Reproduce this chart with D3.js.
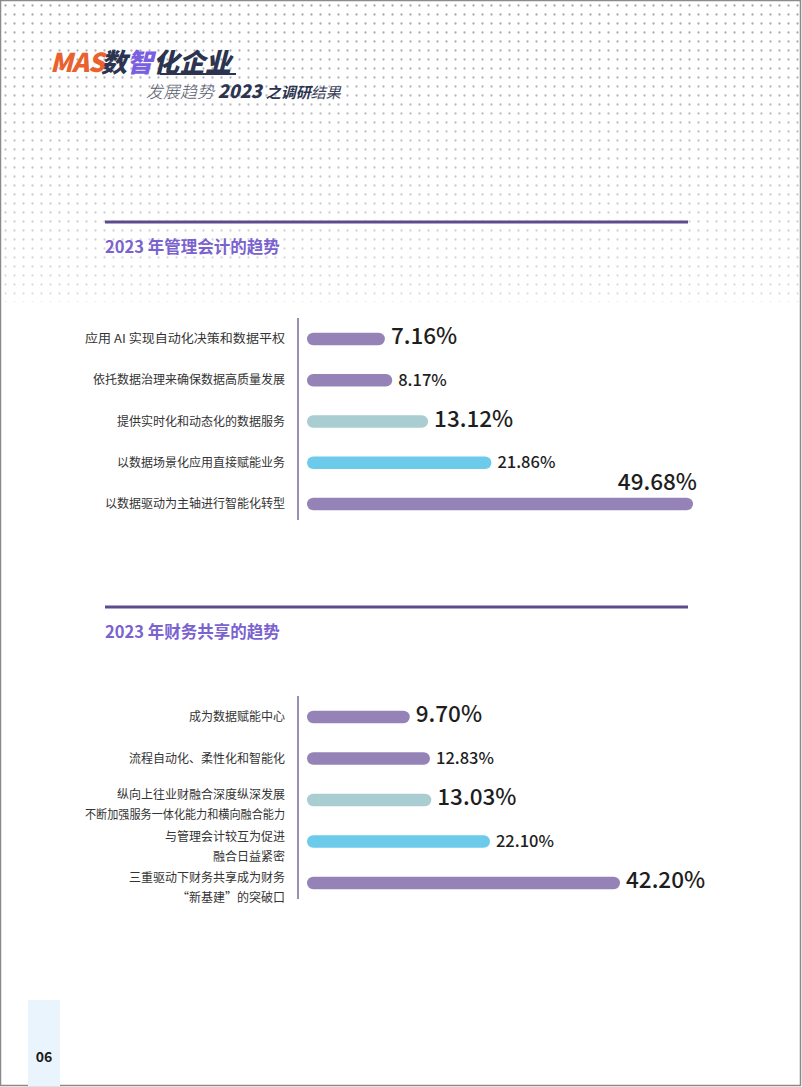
<!DOCTYPE html>
<html>
<head>
<meta charset="utf-8">
<script src="https://cdn.jsdelivr.net/npm/d3@7"></script>
<style>
  html, body { margin: 0; padding: 0; background: #fff; }
  svg { display: block; }
  text { font-family: "Noto Sans CJK SC", "Noto Sans", sans-serif; }
</style>
</head>
<body>
<svg id="page" width="802" height="1087"></svg>
<script>
/* data */
var mgmtTitle = '2023 年管理会计的趋势';
var mgmtLabels = [
  ['应用 AI 实现自动化决策和数据平权'],
  ['依托数据治理来确保数据高质量发展'],
  ['提供实时化和动态化的数据服务'],
  ['以数据场景化应用直接赋能业务'],
  ['以数据驱动为主轴进行智能化转型']
];
var mgmtValues = [7.16, 8.17, 13.12, 21.86, 49.68];

var shareTitle = '2023 年财务共享的趋势';
var shareLabels = [
  ['成为数据赋能中心'],
  ['流程自动化、柔性化和智能化'],
  ['纵向上往业财融合深度纵深发展', '不断加强服务一体化能力和横向融合能力'],
  ['与管理会计较互为促进', '融合日益紧密'],
  ['三重驱动下财务共享成为财务', '“新基建”的突破口']
];
var shareValues = [9.70, 12.83, 13.03, 22.10, 42.20];

var pageNo = '06';

var svg = d3.select('#page');
var W = 802, H = 1087;

/*Dotted background*/
var defs = svg.append('defs');
var pat = defs.append('pattern')
    .attr('id', 'dots').attr('patternUnits', 'userSpaceOnUse')
    .attr('x', 1).attr('y', 1).attr('width', 9).attr('height', 9);
pat.append('circle').attr('cx', 4.5).attr('cy', 4.5).attr('r', 1.15).attr('fill', '#a4a4b0');
var grad = defs.append('linearGradient').attr('id', 'fade')
    .attr('x1', 0).attr('y1', 0).attr('x2', 0).attr('y2', 1);
grad.append('stop').attr('offset', '0%').attr('stop-color', '#fff').attr('stop-opacity', 1);
grad.append('stop').attr('offset', '100%').attr('stop-color', '#fff').attr('stop-opacity', 0.35);
defs.append('mask').attr('id', 'fadeMask')
  .append('rect').attr('x', 0).attr('y', 0).attr('width', W).attr('height', 302)
    .attr('fill', 'url(#fade)');
svg.append('rect')
    .attr('x', 2).attr('y', 2).attr('width', W - 4).attr('height', 300)
    .attr('fill', 'url(#dots)').attr('mask', 'url(#fadeMask)');

/*Page border*/
svg.append('rect')
    .attr('x', 0.5).attr('y', 0.5).attr('width', W - 2).attr('height', H - 2)
    .attr('fill', 'none').attr('stroke', '#8a8a8a').attr('stroke-width', 1.5);

/*Header*/
var head = svg.append('g');
head.append('text')
    .attr('x', 50).attr('y', 72)
    .attr('font-size', 26).attr('font-weight', 900).attr('font-style', 'italic')
    .attr('fill', '#e9622e').attr('letter-spacing', -1)
    .text('MAS');
var t1 = head.append('text')
    .attr('x', 101).attr('y', 72)
    .attr('font-size', 26).attr('font-weight', 900).attr('font-style', 'italic');
t1.append('tspan').attr('fill', '#2c3450').text('数');
t1.append('tspan').attr('fill', '#7a5fe0').text('智');
t1.append('tspan').attr('fill', '#2c3450').text('化企业');
head.append('line')
    .attr('x1', 160).attr('x2', 236).attr('y1', 74).attr('y2', 74)
    .attr('stroke', '#2c3450').attr('stroke-width', 2);
var t2 = head.append('text')
    .attr('x', 146).attr('y', 98)
    .attr('font-size', 17).attr('font-style', 'italic');
t2.append('tspan').attr('fill', '#5a5f70').attr('font-weight', 300).text('发展趋势 ');
t2.append('tspan').attr('fill', '#2c3450').attr('font-weight', 900).attr('font-size', 18).text('2023 ');
t2.append('tspan').attr('fill', '#2c3450').attr('font-weight', 700).attr('font-size', 15).text('之调研');
t2.append('tspan').attr('fill', '#3c4258').attr('font-weight', 400).attr('font-size', 15).text('结果');

/*Bar colours by row*/
var colour = d3.scaleOrdinal()
    .domain([0, 1, 2, 3, 4])
    .range(['#9583b8', '#9583b8', '#a9cdd0', '#6ccbea', '#9583b8']);

function drawChart(opt) {
  var g = svg.append('g');

  // section rule + title
  g.append('line')
      .attr('x1', 105).attr('x2', 688)
      .attr('y1', opt.ruleY).attr('y2', opt.ruleY)
      .attr('stroke', '#5e4b8e').attr('stroke-width', 3);
  g.append('text')
      .attr('x', 105).attr('y', opt.ruleY + 31)
      .attr('font-size', 16.5).attr('font-weight', 700)
      .attr('fill', '#7a62cf')
      .text(opt.title);

  var idx = d3.range(opt.values.length);
  var y = d3.scalePoint().domain(idx).range(opt.yRange);
  var x = d3.scaleLinear()
      .domain([0, d3.max(opt.values)])
      .range(opt.xRange);
  var x0 = 307;

  // axis line
  g.append('line')
      .attr('x1', 298).attr('x2', 298)
      .attr('y1', opt.yRange[0] - 21).attr('y2', opt.yRange[1] + 16)
      .attr('stroke', '#9b8cb8').attr('stroke-width', 2);

  // category labels
  g.selectAll('.cat')
    .data(idx)
    .enter().append('text')
      .attr('class', 'cat')
      .attr('text-anchor', 'end')
      .attr('font-size', 12)
      .attr('fill', '#333')
      .each(function(i) {
        var lines = opt.labels[i];
        var self = d3.select(this);
        lines.forEach(function(s, k) {
          var off = lines.length === 1 ? 0 : (k === 0 ? -5 : 15);
          var ts = self.append('tspan')
              .attr('x', 285)
              .attr('y', y(i) + off + 4)
              .text(s);
          if (s.length > 16) {
            ts.attr('textLength', 200).attr('lengthAdjust', 'spacingAndGlyphs');
          }
        });
      });

  // bars
  var bh = 12.5;
  g.selectAll('.bar')
    .data(idx)
    .enter().append('rect')
      .attr('class', 'bar')
      .attr('x', x0)
      .attr('y', function(i) { return y(i) - bh / 2; })
      .attr('width', function(i) { return x(opt.values[i]) - x0; })
      .attr('height', bh)
      .attr('rx', bh / 2)
      .attr('fill', function(i) { return colour(i); });

  // value labels
  g.selectAll('.val')
    .data(idx)
    .enter().append('text')
      .attr('class', 'val')
      .attr('font-family', '"Noto Sans", sans-serif')
      .attr('font-weight', 500)
      .attr('fill', '#1e1e1e')
      .attr('font-size', function(i) { return i % 2 === 0 ? 22.5 : 16.5; })
      .attr('x', function(i) {
        var end = x(opt.values[i]);
        return end > 660 ? end + 4 : end + 6;
      })
      .attr('y', function(i) {
        var end = x(opt.values[i]);
        if (end > 660) return y(i) - 14;
        return i % 2 === 0 ? y(i) + 5 : y(i) + 5.5;
      })
      .attr('text-anchor', function(i) { return x(opt.values[i]) > 660 ? 'end' : 'start'; })
      .text(function(i) { return opt.values[i].toFixed(2) + '%'; });
}

drawChart({
  title: mgmtTitle, labels: mgmtLabels, values: mgmtValues,
  ruleY: 222, yRange: [339, 504], xRange: [333, 693]
});
drawChart({
  title: shareTitle, labels: shareLabels, values: shareValues,
  ruleY: 607, yRange: [717, 883], xRange: [347, 620]
});

/*Page number*/
svg.append('rect')
    .attr('x', 28).attr('y', 1000).attr('width', 32).attr('height', 86)
    .attr('fill', '#eaf4fd');
svg.append('text')
    .attr('x', 44).attr('y', 1062)
    .attr('text-anchor', 'middle')
    .attr('font-size', 14).attr('font-weight', 700)
    .attr('fill', '#1a1a1a')
    .text(pageNo);
</script>
</body>
</html>
